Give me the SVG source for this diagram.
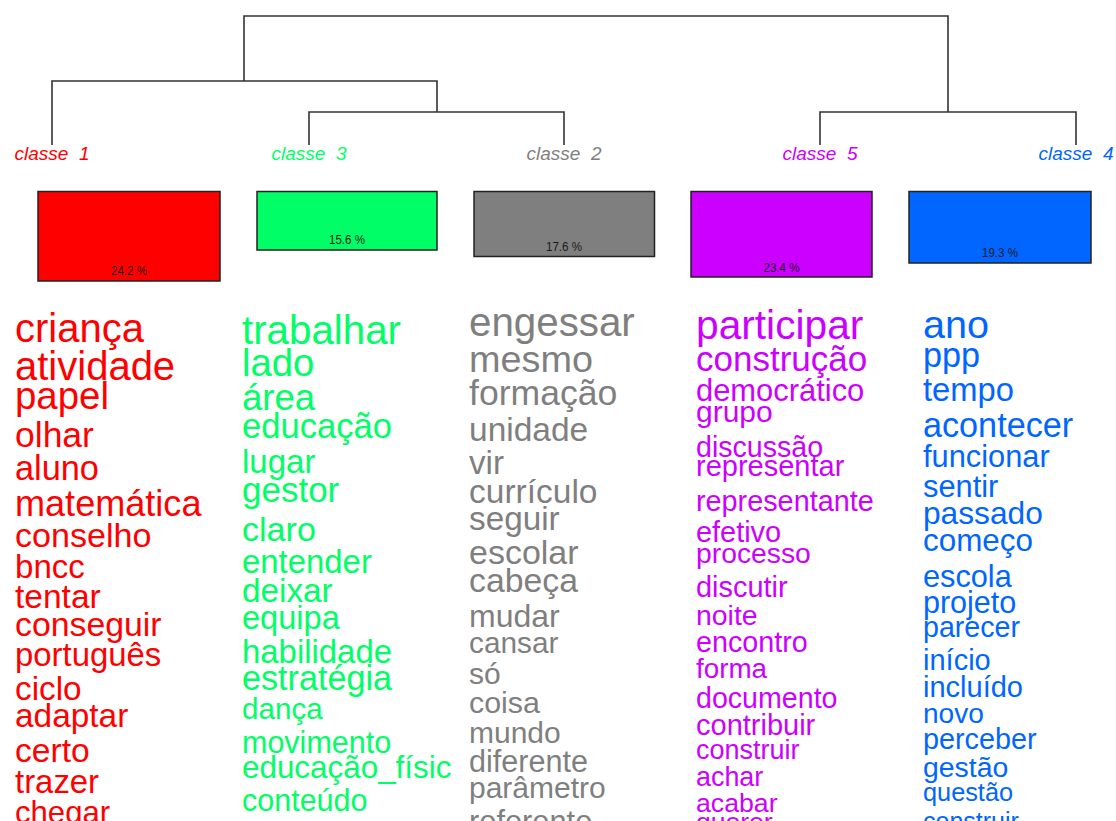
<svg xmlns="http://www.w3.org/2000/svg" width="1116" height="821" viewBox="0 0 1116 821">
<style>
text{font-family:"Liberation Sans",Arial,sans-serif}
.lbl{font-size:19px;font-style:italic;text-anchor:middle;white-space:pre}
.pct{font-size:13px;text-anchor:middle;fill:#1a1a1a}
.bar{stroke:#222;stroke-width:1.5}
.edge{fill:none;stroke:#333;stroke-width:1.6}
.c1{fill:#FF0000}.c2{fill:#7F7F7F}.c3{fill:#00FF66}.c4{fill:#0066FF}.c5{fill:#CC00FF}
</style>
<rect width="1116" height="821" fill="#fff"/>
<g id="connectors">
<path class="edge" d="M244,81V16H948V112"/>
<path class="edge" d="M52,145V81H437V112"/>
<path class="edge" d="M309,145V112H564V145"/>
<path class="edge" d="M820,145V112H1076V145"/>
</g>
<g id="classe1">
<text class="lbl c1" x="52" y="160">classe  1</text>
<rect class="bar c1" x="38" y="191.5" width="182" height="89.5"/>
<text class="pct" x="129" y="275" textLength="36" lengthAdjust="spacingAndGlyphs">24.2 %</text>
<g class="c1">
<text x="15" y="341.7" font-size="40">criança</text>
<text x="15" y="380" font-size="40">atividade</text>
<text x="15" y="409" font-size="38.4">papel</text>
<text x="15" y="446.7" font-size="35.5">olhar</text>
<text x="15" y="480" font-size="34.3">aluno</text>
<text x="15" y="516" font-size="36.1">matemática</text>
<text x="15" y="546.7" font-size="34.1">conselho</text>
<text x="15" y="578.3" font-size="33.1">bncc</text>
<text x="15" y="608.3" font-size="33.5">tentar</text>
<text x="15" y="636" font-size="33.8">conseguir</text>
<text x="15" y="666" font-size="32.9">português</text>
<text x="15" y="700" font-size="33.3">ciclo</text>
<text x="15" y="726.7" font-size="33.4">adaptar</text>
<text x="15" y="761.7" font-size="33.6">certo</text>
<text x="15" y="792.7" font-size="32.9">trazer</text>
<text x="15" y="823" font-size="31.1">chegar</text>
</g>
</g>
<g id="classe3">
<text class="lbl c3" x="309" y="160">classe  3</text>
<rect class="bar c3" x="257" y="191.5" width="180" height="58.5"/>
<text class="pct" x="347" y="244" textLength="36" lengthAdjust="spacingAndGlyphs">15.6 %</text>
<g class="c3">
<text x="242" y="344.3" font-size="40.3">trabalhar</text>
<text x="242" y="376" font-size="38.3">lado</text>
<text x="242" y="410" font-size="36.6">área</text>
<text x="242" y="438.3" font-size="34.6">educação</text>
<text x="242" y="472.5" font-size="33">lugar</text>
<text x="242" y="502.3" font-size="35">gestor</text>
<text x="242" y="540.7" font-size="34.1">claro</text>
<text x="242" y="573" font-size="32.9">entender</text>
<text x="242" y="601.7" font-size="33.3">deixar</text>
<text x="242" y="629" font-size="32.6">equipa</text>
<text x="242" y="663.3" font-size="32.9">habilidade</text>
<text x="242" y="690" font-size="34.2">estratégia</text>
<text x="242" y="719.3" font-size="29.6">dança</text>
<text x="242" y="752.7" font-size="30.5">movimento</text>
<text x="242" y="778.3" font-size="31.4">educação_físic</text>
<text x="242" y="810.7" font-size="30.5">conteúdo</text>
</g>
</g>
<g id="classe2">
<text class="lbl c2" x="564" y="160">classe  2</text>
<rect class="bar c2" x="474" y="191.5" width="180.5" height="65"/>
<text class="pct" x="564" y="250.7" textLength="36" lengthAdjust="spacingAndGlyphs">17.6 %</text>
<g class="c2">
<text x="469" y="335.7" font-size="40.3">engessar</text>
<text x="469" y="371.7" font-size="37.8">mesmo</text>
<text x="469" y="405" font-size="35.6">formação</text>
<text x="469" y="440.7" font-size="33.5">unidade</text>
<text x="469" y="474" font-size="33.2">vir</text>
<text x="469" y="503.3" font-size="33.5">currículo</text>
<text x="469" y="530" font-size="33.3">seguir</text>
<text x="469" y="564" font-size="34">escolar</text>
<text x="469" y="592.3" font-size="33.8">cabeça</text>
<text x="469" y="626.7" font-size="32">mudar</text>
<text x="469" y="652.7" font-size="29.8">cansar</text>
<text x="469" y="684" font-size="30">só</text>
<text x="469" y="713.3" font-size="30.4">coisa</text>
<text x="469" y="743.3" font-size="30">mundo</text>
<text x="469" y="772.3" font-size="30.6">diferente</text>
<text x="469" y="798.3" font-size="30">parâmetro</text>
<text x="469" y="832" font-size="30.8">referente</text>
</g>
</g>
<g id="classe5">
<text class="lbl c5" x="820" y="160">classe  5</text>
<rect class="bar c5" x="691" y="191.5" width="181" height="85.5"/>
<text class="pct" x="781.5" y="271.5" textLength="36" lengthAdjust="spacingAndGlyphs">23.4 %</text>
<g class="c5">
<text x="696" y="339.3" font-size="40.7">participar</text>
<text x="696" y="370.7" font-size="35">construção</text>
<text x="696" y="400.7" font-size="30.9">democrático</text>
<text x="696" y="421.7" font-size="30">grupo</text>
<text x="696" y="456.7" font-size="28.6">discussão</text>
<text x="696" y="475.7" font-size="29">representar</text>
<text x="696" y="510.7" font-size="28.8">representante</text>
<text x="696" y="541.7" font-size="28.9">efetivo</text>
<text x="696" y="563" font-size="28.3">processo</text>
<text x="696" y="596.7" font-size="28.9">discutir</text>
<text x="696" y="625" font-size="28.4">noite</text>
<text x="696" y="651.7" font-size="28.7">encontro</text>
<text x="696" y="678.3" font-size="27.8">forma</text>
<text x="696" y="707.7" font-size="28.6">documento</text>
<text x="696" y="735" font-size="29">contribuir</text>
<text x="696" y="759.3" font-size="27">construir</text>
<text x="696" y="786" font-size="26.9">achar</text>
<text x="696" y="811.7" font-size="26.7">acabar</text>
<text x="696" y="831" font-size="26.5">querer</text>
</g>
</g>
<g id="classe4">
<text class="lbl c4" x="1076" y="160">classe  4</text>
<rect class="bar c4" x="909" y="191.5" width="182" height="71.5"/>
<text class="pct" x="1000" y="257.3" textLength="36" lengthAdjust="spacingAndGlyphs">19.3 %</text>
<g class="c4">
<text x="923" y="337.7" font-size="39.6">ano</text>
<text x="923" y="366.7" font-size="34.2">ppp</text>
<text x="923" y="401" font-size="32.7">tempo</text>
<text x="923" y="436.7" font-size="34.2">acontecer</text>
<text x="923" y="466.7" font-size="30.8">funcionar</text>
<text x="923" y="497.3" font-size="30.8">sentir</text>
<text x="923" y="524" font-size="31.7">passado</text>
<text x="923" y="550.7" font-size="31.4">começo</text>
<text x="923" y="586.7" font-size="30.7">escola</text>
<text x="923" y="613.3" font-size="30.5">projeto</text>
<text x="923" y="637.3" font-size="28.6">parecer</text>
<text x="923" y="670" font-size="29">início</text>
<text x="923" y="696.7" font-size="29">incluído</text>
<text x="923" y="723.3" font-size="28.1">novo</text>
<text x="923" y="749.3" font-size="28.8">perceber</text>
<text x="923" y="777.3" font-size="28.4">gestão</text>
<text x="923" y="801" font-size="25.3">questão</text>
<text x="923" y="830" font-size="25">construir</text>
</g>
</g>
</svg>
